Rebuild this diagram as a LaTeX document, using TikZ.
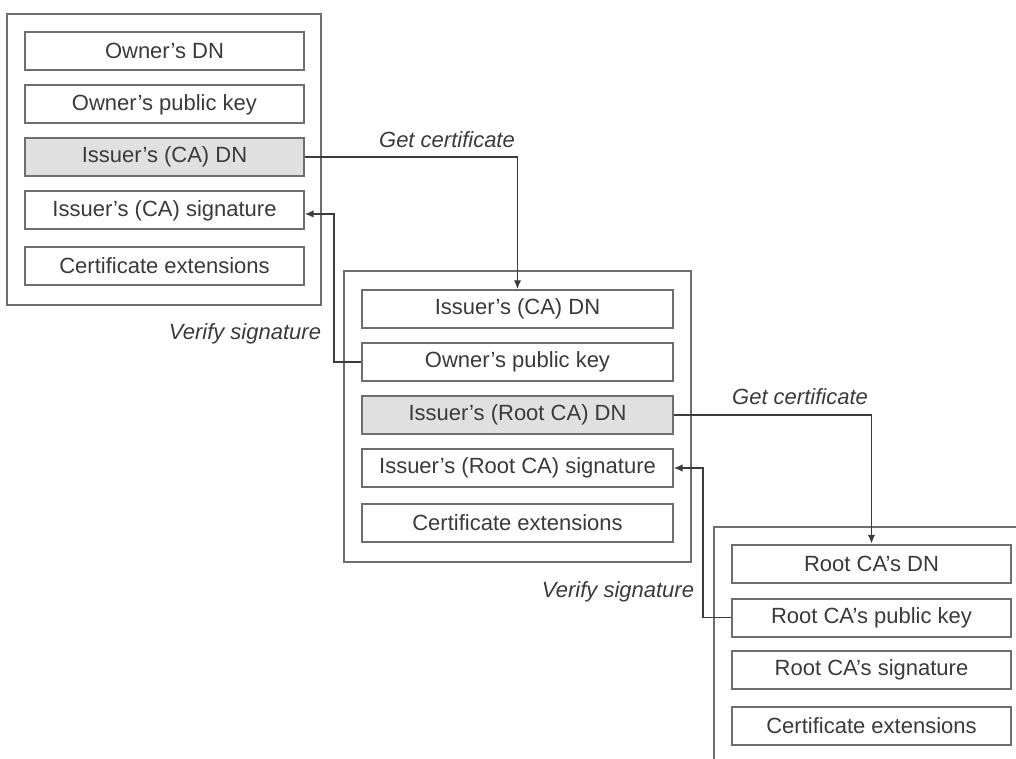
\documentclass[tikz,border=0pt]{standalone}
\usepackage{fontspec}
\setmainfont{Liberation Sans}
\usetikzlibrary{arrows.meta}
\definecolor{txt}{HTML}{3A3A3A}
\definecolor{bord}{HTML}{6E6E6E}
\definecolor{hl}{HTML}{E0E0E0}
\definecolor{conncol}{HTML}{3C3C3C}
\tikzset{
  field/.style={draw=bord, line width=1.5pt, fill=white, minimum height=28.5pt, inner sep=0pt,
     text=txt, font=\fontsize{16.5}{19}\selectfont},
  narrowf/.style={field, minimum width=209pt},
  widef/.style={field, minimum width=233pt},
  hil/.style={fill=hl},
  outerbox/.style={draw=bord, line width=1.5pt},
  conn/.style={draw=conncol, line width=0.9pt, -{Latex[length=6.5pt,width=5.5pt]}},
  lbl/.style={text=txt, font=\fontsize{16.5}{19}\selectfont\itshape, inner sep=0pt}
}
\begin{document}
\begin{tikzpicture}[x=0.75pt,y=-0.75pt]
\useasboundingbox (0,0) rectangle (1016,759);
% outer boxes
\draw[outerbox] (7,14) rectangle (321,305);
\draw[outerbox] (344,271) rectangle (691,562);
\draw[outerbox] (714,759) -- (714,527) -- (1016,527);
% certificate 1
\node[narrowf] (a1) at (164.5,51) {Owner’s DN};
\node[narrowf] (a2) at (164.5,104.5) {Owner’s public key};
\node[narrowf,hil] (a3) at (164.5,157) {Issuer’s (CA) DN};
\node[narrowf] (a4) at (164.5,210.5) {Issuer’s (CA) signature};
\node[narrowf] (a5) at (164.5,265.5) {Certificate extensions};
% certificate 2
\node[widef] (b1) at (517.5,309) {Issuer’s (CA) DN};
\node[widef] (b2) at (517.5,362) {Owner’s public key};
\node[widef,hil] (b3) at (517.5,415) {Issuer’s (Root CA) DN};
\node[widef] (b4) at (517.5,468) {Issuer’s (Root CA) signature};
\node[widef] (b5) at (517.5,522.5) {Certificate extensions};
% certificate 3
\node[narrowf] (c1) at (871.5,563.5) {Root CA’s DN};
\node[narrowf] (c2) at (871.5,617.5) {Root CA’s public key};
\node[narrowf] (c3) at (871.5,670) {Root CA’s signature};
\node[narrowf] (c4) at (871.5,726) {Certificate extensions};
% connectors
\draw[conn] (a3.east) -| (b1.north);
\draw[conn] (b2.west) -- (334,362) |- ([yshift=-2.6pt]a4.east);
\draw[conn] (b3.east) -| (c1.north);
\draw[conn] (c2.west) -- (703,617.5) |- (b4.east);
% labels
\node[lbl] (g1) at (447,140) {Get certificate};
\node[lbl] (v1) at (245,334) {Verify signature};
\node[lbl] (g2) at (800,397) {Get certificate};
\node[lbl] (v2) at (618,592) {Verify signature};
\end{tikzpicture}
\end{document}
